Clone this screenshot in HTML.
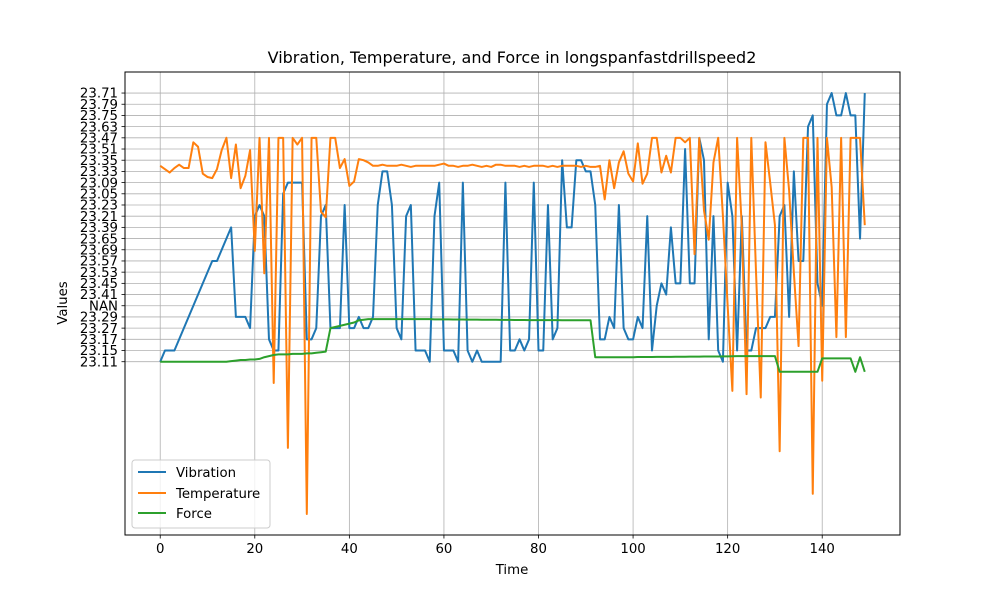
<!DOCTYPE html>
<html><head><meta charset="utf-8"><style>
html,body{margin:0;padding:0;background:#fff;}
svg{display:block;font-family:"DejaVu Sans","Liberation Sans",sans-serif;}
</style></head><body>
<svg id="chart" width="1000" height="600" viewBox="0 0 1000 600">
<rect width="1000" height="600" fill="#fff"/>
<g id="grid"></g>
<g id="series"></g>
<rect x="125" y="72" width="775" height="463" fill="none" stroke="#000" stroke-width="1"/>
<g id="xticks"></g>
<g id="yticks"></g>
<text x="512" y="63" text-anchor="middle" font-size="16">Vibration, Temperature, and Force in longspanfastdrillspeed2</text>
<text x="512" y="574" text-anchor="middle" font-size="13.3">Time</text>
<text x="0" y="0" transform="translate(67,303) rotate(-90)" text-anchor="middle" font-size="13.3">Values</text>
<g>
<rect x="132" y="460" width="138" height="68" rx="3" fill="#fff" fill-opacity="0.8" stroke="#ccc"/>
<g><line x1="138" y1="472" x2="166" y2="472" stroke="#1f77b4" stroke-width="2"/><text x="176" y="477" font-size="13.3">Vibration</text></g>
<g><line x1="138" y1="493" x2="166" y2="493" stroke="#ff7f0e" stroke-width="2"/><text x="176" y="498" font-size="13.3">Temperature</text></g>
<g><line x1="138" y1="513" x2="166" y2="513" stroke="#2ca02c" stroke-width="2"/><text x="176" y="518" font-size="13.3">Force</text></g>
</g>
</svg>
<script>
const yCategories=["23.11","23.15","23.17","23.27","23.29","NAN","23.41","23.45","23.53","23.57","23.69","23.65","23.39","23.21","23.23","23.05","23.09","23.33","23.35","23.51","23.47","23.63","23.75","23.79","23.71"];
const xTicks=[0,20,40,60,80,100,120,140];
const vibT=[0,1,2,3,11,12,15,16,17,18,19,20,21,22,23,24,25,26,27,28,29,30,31,32,33,34,35,36,37,38,39,40,41,42,43,44,45,46,47,48,49,50,51,52,53,54,55,56,57,58,59,60,61,62,63,64,65,66,67,68,69,70,71,72,73,74,75,76,77,78,79,80,81,82,83,84,85,86,87,88,89,90,91,92,93,94,95,96,97,98,99,100,101,102,103,104,105,106,107,108,109,110,111,112,113,114,115,116,117,118,119,120,121,122,123,124,125,126,127,128,129,130,131,132,133,134,135,136,137,138,139,140,141,142,143,144,145,146,147,148,149];
const vibV=[0,1,1,1,9,9,12,4,4,4,3,13,14,13,2,1,1,15,16,16,16,16,2,2,3,13,14,3,3,3,14,3,3,4,3,3,4,14,17,17,14,3,2,13,14,1,1,1,0,13,16,1,1,1,0,16,1,0,1,0,0,0,0,0,16,1,1,2,1,2,16,1,1,14,2,3,18,12,12,18,18,17,17,14,2,2,4,3,14,3,2,2,4,3,13,1,5,7,6,12,7,7,19,7,7,20,18,2,13,1,0,16,13,1,13,1,1,3,3,3,4,4,13,14,4,17,9,9,21,22,7,5,23,24,22,22,24,22,22,11,24];
const tempV=[17.5,17.2,16.9,17.3,17.6,17.3,17.3,19.6,19.2,16.8,16.5,16.4,17.2,18.9,20,16.4,19.4,15.5,16.6,18.9,9.9,20,7.9,20,-1.9,20,20,-7.7,20,19.4,20,-13.6,20,20,13.4,12.9,20,20,17.3,18.1,15.7,16.1,18.1,18,17.8,17.5,17.5,17.6,17.5,17.5,17.5,17.6,17.5,17.4,17.5,17.5,17.5,17.5,17.5,17.6,17.7,17.5,17.5,17.4,17.5,17.5,17.6,17.5,17.4,17.5,17.4,17.6,17.6,17.5,17.5,17.5,17.4,17.5,17.4,17.5,17.5,17.5,17.4,17.5,17.4,17.5,17.5,17.5,17.5,17.4,17.5,17.4,17.4,17.5,14.5,18,15.5,17.8,18.8,16.8,16.1,19.5,15.9,16.8,20,20,16.9,18.4,16.9,20,20,19.6,20,9.6,20,13.5,10.9,17.8,20,13,5,-2.6,20,12,-2.9,20,8,-3.2,19.6,16,12.2,-8,20,15.3,8,1.4,20,20,-11.8,20,-1.7,20,15.6,2.2,20,2.2,20,20,20,12.2];
const forceV=[0,0,0,0,0,0,0,0,0,0,0,0,0,0,0,0.05,0.1,0.15,0.15,0.2,0.2,0.25,0.4,0.5,0.6,0.65,0.65,0.65,0.7,0.7,0.7,0.75,0.75,0.8,0.85,0.9,3,3.1,3.2,3.3,3.4,3.5,3.7,3.75,3.8,3.8,3.8,3.8,3.8,3.8,3.8,3.8,3.8,3.8,3.8,3.8,3.8,3.8,3.78,3.78,3.78,3.78,3.77,3.77,3.77,3.76,3.76,3.76,3.75,3.75,3.75,3.75,3.74,3.74,3.74,3.73,3.73,3.73,3.72,3.72,3.72,3.72,3.71,3.71,3.71,3.7,3.7,3.7,3.7,3.7,3.7,3.7,0.4,0.4,0.4,0.4,0.4,0.4,0.4,0.4,0.4,0.42,0.42,0.42,0.42,0.43,0.43,0.43,0.43,0.44,0.44,0.44,0.45,0.45,0.45,0.46,0.46,0.47,0.47,0.48,0.48,0.49,0.5,0.5,0.5,0.5,0.5,0.5,0.5,0.5,0.5,-0.9,-0.9,-0.9,-0.9,-0.9,-0.9,-0.9,-0.9,-0.9,0.3,0.3,0.3,0.3,0.3,0.3,0.3,-0.9,0.4,-0.9];
const NS='http://www.w3.org/2000/svg';
const PL=125,PR=900,PT=72,PB=535;
const xMin=-7.45,xMax=156.45,yMin=-15.48,yMax=25.88;
function xs(t){return PL+(t-xMin)/(xMax-xMin)*(PR-PL);}
function ys(v){return PB-(v-yMin)/(yMax-yMin)*(PB-PT);}
function mk(tag,attrs,parent){const e=document.createElementNS(NS,tag);for(const k in attrs)e.setAttribute(k,attrs[k]);parent.appendChild(e);return e;}
const grid=document.getElementById('grid'),xg=document.getElementById('xticks'),yg=document.getElementById('yticks'),sg=document.getElementById('series');
xTicks.forEach(t=>{
  const gl=mk('line',{x1:xs(t),x2:xs(t),y1:PT,y2:PB,stroke:'#b0b0b0','stroke-width':0.8},grid);
  
  
  mk('line',{x1:xs(t),x2:xs(t),y1:PB,y2:PB+3.5,stroke:'#000','stroke-width':0.8},xg);
  const tx=mk('text',{x:xs(t),y:PB+18,'text-anchor':'middle','font-size':13.3},xg);
  tx.textContent=t;
  
  
});
yCategories.forEach((c,i)=>{
  const gl=mk('line',{x1:PL,x2:PR,y1:ys(i),y2:ys(i),stroke:'#b0b0b0','stroke-width':0.8},grid);
  
  
  mk('line',{x1:PL-3.5,x2:PL,y1:ys(i),y2:ys(i),stroke:'#000','stroke-width':0.8},yg);
  const tx=mk('text',{x:PL-7,y:ys(i)+4.7,'text-anchor':'end','font-size':13.3},yg);
  tx.textContent=c;
  
  
});
function line(ts,vs,color,name){
  const d=vs.map((v,i)=>(i?'L':'M')+xs(ts[i]).toFixed(2)+','+ys(v).toFixed(2)).join(' ');
  const p=mk('path',{d:d,fill:'none',stroke:color,'stroke-width':2,'stroke-linejoin':'round'},sg);
  
  
}
const idx=tempV.map((_,i)=>i);
line(vibT,vibV,'#1f77b4','vibration-line');
line(idx,tempV,'#ff7f0e','temperature-line');
line(idx,forceV,'#2ca02c','force-line');
</script>
</body></html>
